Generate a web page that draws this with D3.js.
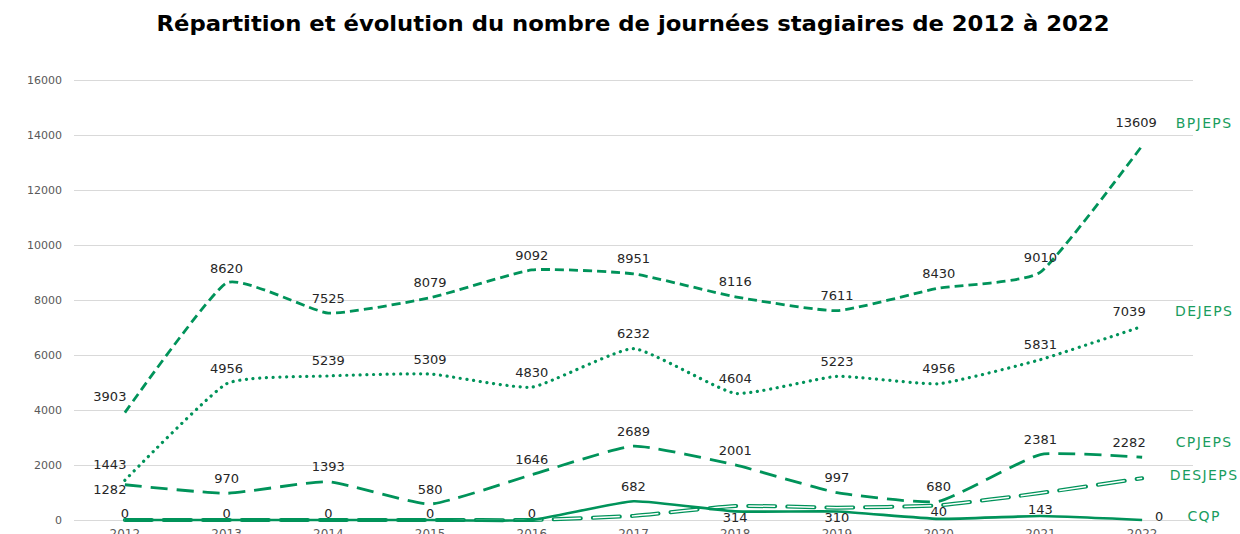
<!DOCTYPE html>
<html>
<head>
<meta charset="utf-8">
<script src="https://cdn.jsdelivr.net/npm/d3@7"></script>
<style>
  body { margin: 0; background: #fff; }
  svg { display: block; }
</style>
</head>
<body>
<div id="chart"></div>
<script>
// data
const years = ["2012", "2013", "2014", "2015", "2016", "2017", "2018", "2019", "2020", "2021", "2022"];
const bpjeps = [3903, 8620, 7525, 8079, 9092, 8951, 8116, 7611, 8430, 9010, 13609];
const dejeps = [1443, 4956, 5239, 5309, 4830, 6232, 4604, 5223, 4956, 5831, 7039];
const cpjeps = [1282, 970, 1393, 580, 1646, 2689, 2001, 997, 680, 2381, 2282];
const desjeps = [0, 0, 0, 0, 0, 150, 510, 450, 530, 980, 1520]; // not labelled, estimated
const cqp = [0, 0, 0, 0, 0, 682, 314, 310, 40, 143, 0];
const yTicks = [0, 2000, 4000, 6000, 8000, 10000, 12000, 14000, 16000];

// where each data label sits relative to its point
const bpjepsPlace = ["left", "above", "above", "above", "above", "above", "above", "above", "above", "above", "topLeft"];
const dejepsPlace = ["left", "above", "above", "above", "above", "above", "above", "above", "above", "above", "aboveLeft"];
const cpjepsPlace = ["belowLeft", "above", "above", "above", "above", "above", "above", "above", "above", "above", "aboveLeft"];
const cqpPlace = ["near", "near", "near", "near", "near", "above", "below", "below", "near", "near", "right"];

const green = "#00935A";
const labelGreen = "#1A9D5E";

const series = [
    {name: "BPJEPS", values: bpjeps, place: bpjepsPlace, dash: "9,5", cap: "butt", width: 2.8},
    {name: "DEJEPS", values: dejeps, place: dejepsPlace, dash: "0.1,6.6", cap: "round", width: 3.2},
    {name: "CPJEPS", values: cpjeps, place: cpjepsPlace, dash: "17,9", cap: "butt", width: 2.8},
    {name: "DESJEPS", values: desjeps, place: null, dash: "27,12", cap: "round", width: 4, compound: true},
    {name: "CQP", values: cqp, place: cqpPlace, dash: null, cap: "butt", width: 2.6}
];

const offsets = {
    above: [0, -15],
    left: [-15, -16],
    belowLeft: [-15, 5],
    aboveLeft: [-13, -15],
    topLeft: [-6, -23],
    near: [0, -7],
    below: [0, 6],
    right: [17, -4]
};

const W = 1240, H = 534;
const svg = d3.select("#chart").append("svg")
    .attr("width", W)
    .attr("height", H);

const x = d3.scaleBand().domain(years).range([74, 1193]);
const y = d3.scaleLinear().domain([0, 16000]).range([520, 80]);
const cx = d => x(d) + x.bandwidth() / 2;

// title
svg.append("text")
    .attr("x", 633)
    .attr("y", 31)
    .attr("text-anchor", "middle")
    .attr("font-family", "DejaVu Sans, sans-serif")
    .attr("font-weight", "bold")
    .attr("font-size", 22)
    .attr("fill", "#000")
    .attr("textLength", 953)
    .attr("lengthAdjust", "spacingAndGlyphs")
    .text("Répartition et évolution du nombre de journées stagiaires de 2012 à 2022");

// y axis + gridlines
const yAxis = svg.append("g")
    .attr("transform", "translate(74,0)")
    .call(d3.axisLeft(y).tickValues(yTicks).tickSize(-(1193 - 74)).tickPadding(12).tickFormat(d3.format("d")));
yAxis.select(".domain").remove();
yAxis.selectAll(".tick line").attr("stroke", "#d9d9d9").attr("stroke-width", 1);
yAxis.selectAll(".tick text")
    .attr("fill", "#595959")
    .attr("font-family", "DejaVu Sans, sans-serif")
    .attr("font-size", 11);

// x axis labels (cut by the bottom edge like the reference)
const xAxis = svg.append("g")
    .attr("transform", "translate(0,520)")
    .call(d3.axisBottom(x).tickSize(0).tickPadding(9));
xAxis.select(".domain").remove();
xAxis.selectAll(".tick text")
    .attr("fill", "#595959")
    .attr("font-family", "DejaVu Sans, sans-serif")
    .attr("font-size", 12);

const line = d3.line()
    .x((d, i) => cx(years[i]))
    .y(d => y(d))
    .curve(d3.curveCardinal.tension(0.55));

const lines = svg.append("g");
series.forEach(s => {
    lines.append("path")
        .datum(s.values)
        .attr("d", line)
        .attr("fill", "none")
        .attr("stroke", green)
        .attr("stroke-width", s.width)
        .attr("stroke-linecap", s.cap)
        .attr("stroke-dasharray", s.dash);
    if (s.compound) {
        lines.append("path")
            .datum(s.values)
            .attr("d", line)
            .attr("fill", "none")
            .attr("stroke", "#fff")
            .attr("stroke-width", 1.5)
            .attr("stroke-linecap", "butt")
            .attr("stroke-dasharray", s.dash);
    }
});

// data labels
const labels = svg.append("g")
    .attr("font-family", "DejaVu Sans, sans-serif")
    .attr("font-size", 13)
    .attr("fill", "#262626")
    .attr("text-anchor", "middle");

series.forEach(s => {
    let last = s.values.length - 1;
    let nameY = y(s.values[last]) - 3;
    if (s.place) {
        s.values.forEach((v, i) => {
            let o = offsets[s.place[i]];
            labels.append("text")
                .attr("x", cx(years[i]) + o[0])
                .attr("y", y(v) + o[1])
                .attr("dy", "0.35em")
                .text(v);
        });
        nameY = y(s.values[last]) + offsets[s.place[last]][1];
    }
    // series name at the right end
    svg.append("text")
        .attr("x", cx(years[last]) + 62)
        .attr("y", nameY)
        .attr("dy", "0.35em")
        .attr("text-anchor", "middle")
        .attr("font-family", "DejaVu Sans, sans-serif")
        .attr("font-size", 14)
        .attr("letter-spacing", 1.4)
        .attr("fill", labelGreen)
        .text(s.name);
});
</script>
</body>
</html>
